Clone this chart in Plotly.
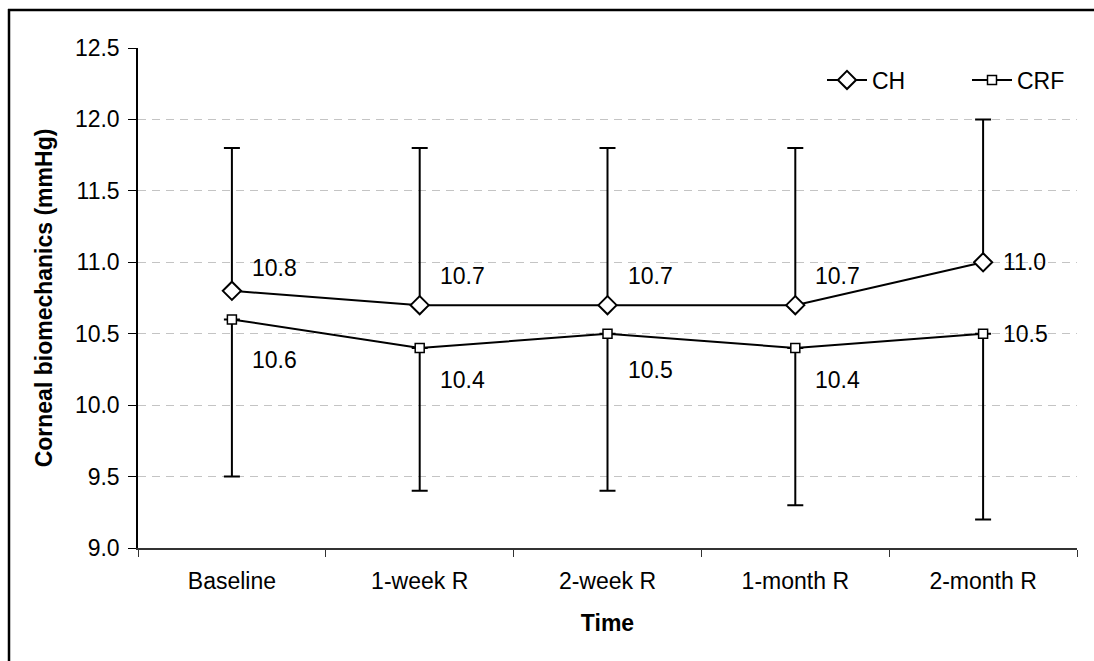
import plotly.graph_objects as go

categories = ["Baseline", "1-week R", "2-week R", "1-month R", "2-month R"]
ch_values = [10.8, 10.7, 10.7, 10.7, 11.0]
ch_sd = [1.0, 1.1, 1.1, 1.1, 1.0]
crf_values = [10.6, 10.4, 10.5, 10.4, 10.5]
crf_sd = [1.1, 1.0, 1.1, 1.1, 1.3]
y_ticks = [9.0, 9.5, 10.0, 10.5, 11.0, 11.5, 12.0, 12.5]

# label placement (pixels, style only)
ch_label_dy = [-23, -29, -29, -29, 0]
crf_label_dy = [41, 32, 36, 32, 0]

FONT = "Liberation Sans, Arial, sans-serif"
FS = 23

fig = go.Figure()
fig.add_trace(go.Scatter(
    x=categories, y=ch_values, name="CH", mode="lines+markers",
    line=dict(color="black", width=2),
    marker=dict(symbol="diamond", size=14, color="white", line=dict(color="black", width=2)),
    error_y=dict(type="data", array=ch_sd, arrayminus=[0] * len(ch_sd), symmetric=False,
                 color="black", thickness=2, width=8),
))
fig.add_trace(go.Scatter(
    x=categories, y=crf_values, name="CRF", mode="lines+markers",
    line=dict(color="black", width=2),
    marker=dict(symbol="square", size=9, color="white", line=dict(color="black", width=1.5)),
    error_y=dict(type="data", array=[0] * len(crf_sd), arrayminus=crf_sd, symmetric=False,
                 color="black", thickness=2, width=8),
))

for c, v, dy in zip(categories, ch_values, ch_label_dy):
    fig.add_annotation(x=c, y=v, xref="x", yref="y", text=f"{v:.1f}", showarrow=False,
                       xanchor="left", yanchor="middle", xshift=18, yshift=-dy,
                       font=dict(family=FONT, size=FS, color="black"))
for c, v, dy in zip(categories, crf_values, crf_label_dy):
    fig.add_annotation(x=c, y=v, xref="x", yref="y", text=f"{v:.1f}", showarrow=False,
                       xanchor="left", yanchor="middle", xshift=18, yshift=-dy,
                       font=dict(family=FONT, size=FS, color="black"))

# outer frame (top and left edges visible)
W, H = 1094, 661
L, R, T, B = 138, 17, 48, 113
pw, ph = W - L - R, H - T - B
def px(x):
    return (x - L) / pw
def py(y):
    return (H - B - y) / ph
fig.add_shape(type="line", xref="paper", yref="paper",
              x0=px(8), x1=px(W), y0=py(10), y1=py(10),
              line=dict(color="black", width=2.5))
fig.add_shape(type="line", xref="paper", yref="paper",
              x0=px(9), x1=px(9), y0=py(9), y1=py(H),
              line=dict(color="black", width=2.5))

fig.update_layout(
    width=W, height=H,
    margin=dict(l=L, r=R, t=T, b=B, autoexpand=False),
    paper_bgcolor="white", plot_bgcolor="white",
    font=dict(family=FONT, size=FS, color="black"),
    showlegend=True,
    legend=dict(orientation="h", x=px(822), xanchor="left", y=py(80), yanchor="middle",
                bgcolor="rgba(0,0,0,0)", font=dict(family=FONT, size=FS, color="black"),
                itemwidth=40, entrywidth=90, entrywidthmode="pixels", tracegroupgap=0),
    xaxis=dict(type="category", range=[-0.5, 4.5], tickson="boundaries",
               ticks="outside", ticklen=7, tickcolor="#333", tickwidth=1,
               showline=True, linecolor="#333", linewidth=1.5, showgrid=False,
               tickfont=dict(size=FS), automargin=False, ticklabelstandoff=12,
               title=dict(text="<b>Time</b>", font=dict(size=FS), standoff=22)),
    yaxis=dict(range=[9.0, 12.5], tickvals=y_ticks, ticktext=[f"{t:.1f}" for t in y_ticks],
               ticks="outside", ticklen=8, tickcolor="black", tickwidth=1,
               showline=True, linecolor="black", linewidth=1.5,
               showgrid=True, gridcolor="#c4c4c4", gridwidth=1, griddash="8px,6px",
               zeroline=False, tickfont=dict(size=FS), automargin=False, ticklabelstandoff=4,
               title=dict(text="<b>Corneal biomechanics (mmHg)</b>", font=dict(size=FS), standoff=16)),
)

fig.write_html("out.html")
